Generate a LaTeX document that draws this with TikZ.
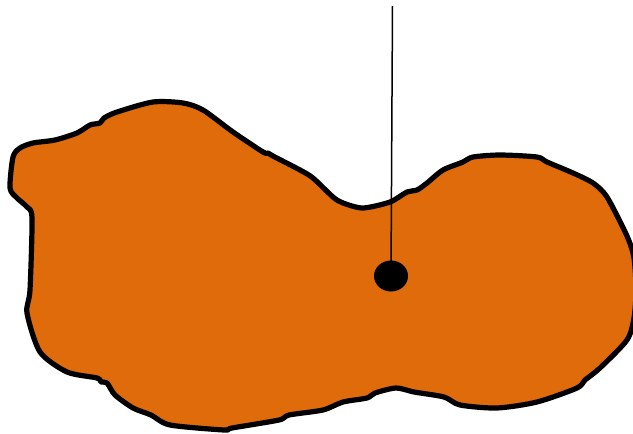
\documentclass[tikz,border=0pt]{standalone}
\usepackage{tikz}
\usetikzlibrary{shapes.geometric}
\usepackage{xcolor}
\definecolor{Blob}{HTML}{E06B0B}
\definecolor{Ink}{HTML}{000000}
\tikzset{
 blob/.style={draw=Ink, fill=Blob, line width=5.2pt, line join=round},
 pin/.style={draw=Ink, line width=1.5pt},
 pinhead/.style={ellipse, fill=Ink, minimum width=34pt, minimum height=31pt, inner sep=0pt}
}

\begin{document}
\begin{tikzpicture}[x=1pt,y=-1pt]
\useasboundingbox (0,0) rectangle (633,434);
\clip (0,0) rectangle (633,434);
% outline of the region
\draw[blob] plot[smooth cycle, tension=0.45] coordinates {
 (10,188) (13,157) (20,148) (33,143) (55,140) (77,133) (90,125) (100,123)
 (104,118) (117,112) (153,102) (183,103) (203,110) (233,132) (263,152) (268,153)
 (273,156) (300,170) (313,178) (333,197) (343,203) (363,208) (390,202) (407,192)
 (417,190) (427,183) (443,170) (463,162) (473,157) (500,155) (537,157) (547,162)
 (573,173) (593,183) (607,197) (627,236) (634,258) (636,290) (634,318) (627,340)
 (600,368) (585,380) (577,388) (537,402) (497,408) (460,405) (444,397) (414,392)
 (396,388) (375,393) (367,398) (343,402) (323,410) (289,415) (279,420) (232,428)
 (224,430) (170,425) (151,415) (133,408) (115,395) (107,383) (101,382) (97,378)
 (67,372) (40,352) (27,313) (30,290) (32,218) (27,207) (17,198)};
% point and its pin
\node[pinhead] (dot) at (391,276) {};
\coordinate (top) at (392.5,6);
\draw[pin] (top) -- (dot.center);
\end{tikzpicture}
\end{document}
